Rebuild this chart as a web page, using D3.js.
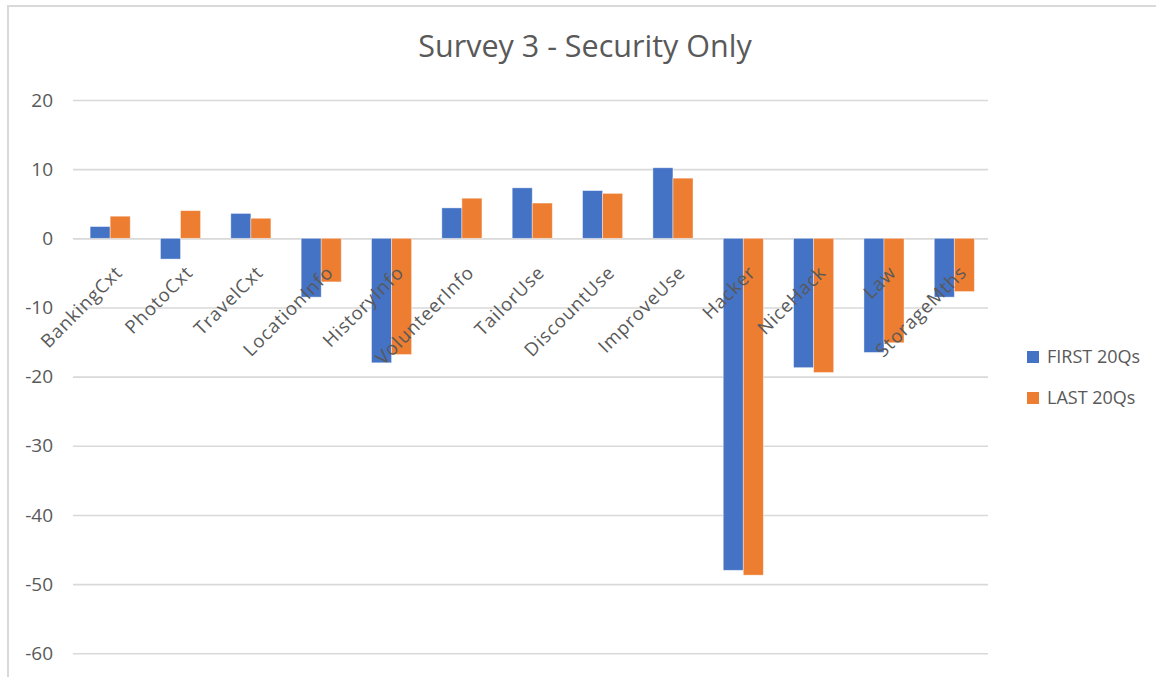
<!DOCTYPE html>
<html>
<head>
<meta charset="utf-8">
<script src="https://cdn.jsdelivr.net/npm/d3@7"></script>
<style>
  html, body { margin: 0; padding: 0; background: #ffffff; }
  svg { display: block; font-family: "Open Sans", "Liberation Sans", sans-serif; }
</style>
</head>
<body>
<svg id="chart" width="1156" height="677"></svg>
<script>
// Survey 3 – security questions, mean scores per question
const categories = ["BankingCxt", "PhotoCxt", "TravelCxt", "LocationInfo", "HistoryInfo",
  "VolunteerInfo", "TailorUse", "DiscountUse", "ImproveUse", "Hacker", "NiceHack", "Law", "StorageMths"];
const seriesNames = ["FIRST 20Qs", "LAST 20Qs"];
const first20 = [1.7, -3.0, 3.6, -8.5, -18.0, 4.4, 7.3, 6.9, 10.2, -48.0, -18.7, -16.5, -8.5];
const last20 = [3.2, 4.0, 2.9, -6.3, -16.8, 5.8, 5.1, 6.5, 8.7, -48.7, -19.4, -15.1, -7.7];
const yTicks = [20, 10, 0, -10, -20, -30, -40, -50, -60];
const seriesColors = ["#4472C4", "#ED7D31"];

const svg = d3.select("#chart");
const textColor = "#595959";
const gridColor = "#d9d9d9";

// outer frame of the chart area
svg.append("rect")
  .attr("x", 8).attr("y", 6)
  .attr("width", 1160).attr("height", 690)
  .attr("fill", "none")
  .attr("stroke", gridColor)
  .attr("stroke-width", 2);

svg.append("text")
  .attr("x", 585).attr("y", 57)
  .attr("text-anchor", "middle")
  .attr("font-size", 30.5)
  .attr("fill", textColor)
  .text("Survey 3 - Security Only");

const plot = { left: 73, right: 988, top: 100, bottom: 653.3 };

const y = d3.scaleLinear().domain([-60, 20]).range([plot.bottom, plot.top]);
const x0 = d3.scaleBand().domain(categories).range([plot.left + 2, plot.right + 1.5])
  .paddingInner(0.43).paddingOuter(0.215);
const x1 = d3.scaleBand().domain(seriesNames).range([0, x0.bandwidth()]);

// horizontal gridlines with value labels
const yAxis = d3.axisLeft(y).tickValues(yTicks).tickSize(-(plot.right - plot.left)).tickPadding(20)
  .tickFormat(d => String(d));
const gy = svg.append("g").attr("transform", `translate(${plot.left},0)`).call(yAxis);
gy.select(".domain").remove();
gy.selectAll(".tick line").attr("stroke", gridColor).attr("stroke-width", 1.6);
gy.selectAll(".tick text").attr("fill", textColor).attr("font-size", 19)
  .attr("font-family", "'Open Sans', sans-serif");

const values = [first20, last20];
const rows = categories.map((c, i) => ({ cat: c, vals: seriesNames.map((s, k) => ({ s, k, v: values[k][i] })) }));

const groups = svg.append("g").selectAll("g")
  .data(rows).join("g")
  .attr("transform", d => `translate(${x0(d.cat)},0)`);

groups.selectAll("rect")
  .data(d => d.vals).join("rect")
  .attr("x", d => x1(d.s))
  .attr("width", x1.bandwidth())
  .attr("y", d => y(Math.max(0, d.v)))
  .attr("height", d => Math.abs(y(d.v) - y(0)))
  .attr("fill", d => seriesColors[d.k])
  .attr("stroke", "#ffffff")
  .attr("stroke-opacity", 0.5)
  .attr("stroke-width", 0.8);

// rotated category labels hanging just below the zero line
svg.append("g").selectAll("text")
  .data(categories).join("text")
  .attr("transform", d => `translate(${x0(d) + x0.bandwidth() / 2 + 4},${y(0) + 26}) rotate(-45)`)
  .attr("text-anchor", "end")
  .attr("dy", "0.72em")
  .attr("font-size", 18.5)
  .attr("letter-spacing", 0.9)
  .attr("fill", textColor)
  .text(d => d);

// legend
const legend = svg.append("g").selectAll("g")
  .data(seriesNames).join("g")
  .attr("transform", (d, i) => `translate(1027,${351 + i * 41})`);
legend.append("rect")
  .attr("width", 12).attr("height", 12)
  .attr("fill", (d, i) => seriesColors[i]);
legend.append("text")
  .attr("x", 20).attr("y", 6).attr("dy", "0.35em")
  .attr("font-size", 18)
  .attr("fill", textColor)
  .text(d => d);
</script>
</body>
</html>
